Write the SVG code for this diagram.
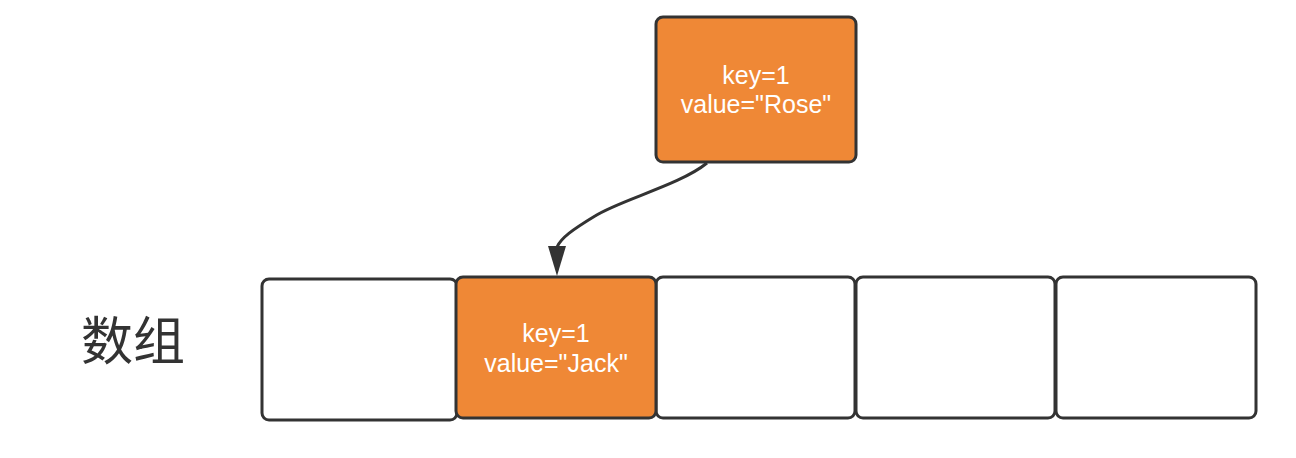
<svg xmlns="http://www.w3.org/2000/svg" width="1296" height="458" viewBox="0 0 1296 458">
<defs>
<style>
.box{stroke:#333;stroke-width:3}
.o{fill:#EF8836}
.w{fill:#fff}
.t{font-family:"Liberation Sans",Arial,sans-serif;font-size:25px;fill:#fff;text-anchor:middle}
.lbl{font-family:"Noto Sans CJK SC",sans-serif;font-size:52px;fill:#333}
</style>
</defs>
<rect width="1296" height="458" fill="#fff"/>
<g id="label"><text class="lbl" x="81" y="360">数组</text></g>
<g id="cell1"><rect class="box w" x="262" y="279" width="195" height="141" rx="7"/></g>
<g id="cell3"><rect class="box w" x="656" y="277" width="199" height="141" rx="7"/></g>
<g id="cell4"><rect class="box w" x="856" y="277" width="199" height="141" rx="7"/></g>
<g id="cell5"><rect class="box w" x="1056" y="277" width="200" height="141" rx="7"/></g>
<g id="cell2"><rect class="box o" x="456" y="277" width="200" height="141" rx="7"/>
<text class="t" x="556" y="342">key=1</text>
<text class="t" x="556" y="372">value="Jack"</text></g>
<g id="rose"><rect class="box o" x="656" y="17" width="200" height="145" rx="7"/>
<text class="t" x="756" y="84">key=1</text>
<text class="t" x="756" y="113">value="Rose"</text></g>
<g id="connectors">
<path d="M707,163 C680,185 620,200 595,216 C572,230 561,238 557,247" fill="none" stroke="#333" stroke-width="3"/>
<path d="M548,246 L566,246 L557,276 Z" fill="#333"/>
</g>
</svg>
